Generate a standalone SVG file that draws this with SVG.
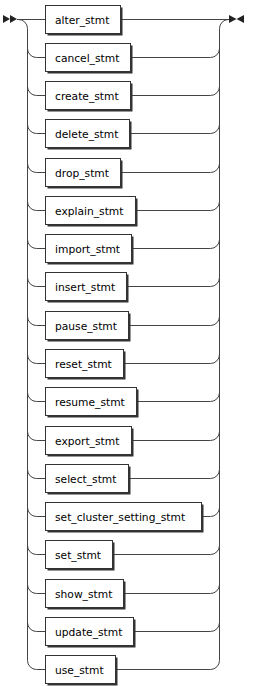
<svg xmlns="http://www.w3.org/2000/svg" width="263" height="686" viewBox="0 0 263 686">
<style>
.bg{fill:#fff}
.shadow{fill:#333;stroke:none}
.box{fill:#fff;stroke:#333;stroke-width:1}
.lbl{font-family:"DejaVu Sans",Verdana,sans-serif;font-size:10.7px;fill:#000}
.wire{fill:none;stroke:#444;stroke-width:1}
.arrow{fill:#222;stroke:none}
</style>
<rect class="bg" x="0" y="0" width="263" height="686"/>
<g id="connectors">
<polygon class="arrow" points="3,15 3,23 10,19"/>
<polygon class="arrow" points="10,15 10,23 17,19"/>
<polygon class="arrow" points="229,15 229,23 236.5,19"/>
<polygon class="arrow" points="244,15 244,23 236.5,19"/>
<path class="wire" d="M17 19.5 H45.5 M122 19.5 H229"/>
<path class="wire" d="M18 19.5 A9 9 0 0 1 27.5 28.5 V660.5"/>
<path class="wire" d="M219.5 660.5 V28.5 A9 9 0 0 1 228.5 19.5"/>
<path class="wire" d="M27.5 48.5 A9 9 0 0 0 36.5 57.5 H45.5 M132 57.5 H210.5 A9 9 0 0 0 219.5 48.5"/>
<path class="wire" d="M27.5 86.5 A9 9 0 0 0 36.5 95.5 H45.5 M132 95.5 H210.5 A9 9 0 0 0 219.5 86.5"/>
<path class="wire" d="M27.5 124.5 A9 9 0 0 0 36.5 133.5 H45.5 M131 133.5 H210.5 A9 9 0 0 0 219.5 124.5"/>
<path class="wire" d="M27.5 163.5 A9 9 0 0 0 36.5 172.5 H45.5 M122 172.5 H210.5 A9 9 0 0 0 219.5 163.5"/>
<path class="wire" d="M27.5 201.5 A9 9 0 0 0 36.5 210.5 H45.5 M137 210.5 H210.5 A9 9 0 0 0 219.5 201.5"/>
<path class="wire" d="M27.5 239.5 A9 9 0 0 0 36.5 248.5 H45.5 M133 248.5 H210.5 A9 9 0 0 0 219.5 239.5"/>
<path class="wire" d="M27.5 277.5 A9 9 0 0 0 36.5 286.5 H45.5 M128 286.5 H210.5 A9 9 0 0 0 219.5 277.5"/>
<path class="wire" d="M27.5 316.5 A9 9 0 0 0 36.5 325.5 H45.5 M130 325.5 H210.5 A9 9 0 0 0 219.5 316.5"/>
<path class="wire" d="M27.5 354.5 A9 9 0 0 0 36.5 363.5 H45.5 M125 363.5 H210.5 A9 9 0 0 0 219.5 354.5"/>
<path class="wire" d="M27.5 392.5 A9 9 0 0 0 36.5 401.5 H45.5 M138 401.5 H210.5 A9 9 0 0 0 219.5 392.5"/>
<path class="wire" d="M27.5 431.5 A9 9 0 0 0 36.5 440.5 H45.5 M133 440.5 H210.5 A9 9 0 0 0 219.5 431.5"/>
<path class="wire" d="M27.5 469.5 A9 9 0 0 0 36.5 478.5 H45.5 M130 478.5 H210.5 A9 9 0 0 0 219.5 469.5"/>
<path class="wire" d="M27.5 507.5 A9 9 0 0 0 36.5 516.5 H45.5 M203 516.5 H210.5 A9 9 0 0 0 219.5 507.5"/>
<path class="wire" d="M27.5 545.5 A9 9 0 0 0 36.5 554.5 H45.5 M114 554.5 H210.5 A9 9 0 0 0 219.5 545.5"/>
<path class="wire" d="M27.5 584.5 A9 9 0 0 0 36.5 593.5 H45.5 M125 593.5 H210.5 A9 9 0 0 0 219.5 584.5"/>
<path class="wire" d="M27.5 622.5 A9 9 0 0 0 36.5 631.5 H45.5 M135 631.5 H210.5 A9 9 0 0 0 219.5 622.5"/>
<path class="wire" d="M27.5 660.5 A9 9 0 0 0 36.5 669.5 H45.5 M117 669.5 H210.5 A9 9 0 0 0 219.5 660.5"/>
</g>
<g id="alter_stmt"><rect class="shadow" x="47.5" y="7.5" width="75" height="28"/><rect class="box" x="45.5" y="5.5" width="75" height="28"/><text class="lbl" x="55" y="23.5">alter_stmt</text></g>
<g id="cancel_stmt"><rect class="shadow" x="47.5" y="45.5" width="85" height="28"/><rect class="box" x="45.5" y="43.5" width="85" height="28"/><text class="lbl" x="55" y="61.5">cancel_stmt</text></g>
<g id="create_stmt"><rect class="shadow" x="47.5" y="83.5" width="85" height="28"/><rect class="box" x="45.5" y="81.5" width="85" height="28"/><text class="lbl" x="55" y="99.5">create_stmt</text></g>
<g id="delete_stmt"><rect class="shadow" x="47.5" y="121.5" width="84" height="28"/><rect class="box" x="45.5" y="119.5" width="84" height="28"/><text class="lbl" x="55" y="137.5">delete_stmt</text></g>
<g id="drop_stmt"><rect class="shadow" x="47.5" y="160.5" width="75" height="28"/><rect class="box" x="45.5" y="158.5" width="75" height="28"/><text class="lbl" x="55" y="176.5">drop_stmt</text></g>
<g id="explain_stmt"><rect class="shadow" x="47.5" y="198.5" width="90" height="28"/><rect class="box" x="45.5" y="196.5" width="90" height="28"/><text class="lbl" x="55" y="214.5">explain_stmt</text></g>
<g id="import_stmt"><rect class="shadow" x="47.5" y="236.5" width="86" height="28"/><rect class="box" x="45.5" y="234.5" width="86" height="28"/><text class="lbl" x="55" y="252.5">import_stmt</text></g>
<g id="insert_stmt"><rect class="shadow" x="47.5" y="274.5" width="81" height="28"/><rect class="box" x="45.5" y="272.5" width="81" height="28"/><text class="lbl" x="55" y="290.5">insert_stmt</text></g>
<g id="pause_stmt"><rect class="shadow" x="47.5" y="313.5" width="83" height="28"/><rect class="box" x="45.5" y="311.5" width="83" height="28"/><text class="lbl" x="55" y="329.5">pause_stmt</text></g>
<g id="reset_stmt"><rect class="shadow" x="47.5" y="351.5" width="78" height="28"/><rect class="box" x="45.5" y="349.5" width="78" height="28"/><text class="lbl" x="55" y="367.5">reset_stmt</text></g>
<g id="resume_stmt"><rect class="shadow" x="47.5" y="389.5" width="91" height="28"/><rect class="box" x="45.5" y="387.5" width="91" height="28"/><text class="lbl" x="55" y="405.5">resume_stmt</text></g>
<g id="export_stmt"><rect class="shadow" x="47.5" y="428.5" width="86" height="28"/><rect class="box" x="45.5" y="426.5" width="86" height="28"/><text class="lbl" x="55" y="444.5">export_stmt</text></g>
<g id="select_stmt"><rect class="shadow" x="47.5" y="466.5" width="83" height="28"/><rect class="box" x="45.5" y="464.5" width="83" height="28"/><text class="lbl" x="55" y="482.5">select_stmt</text></g>
<g id="set_cluster_setting_stmt"><rect class="shadow" x="47.5" y="504.5" width="156" height="28"/><rect class="box" x="45.5" y="502.5" width="156" height="28"/><text class="lbl" x="55" y="520.5">set_cluster_setting_stmt</text></g>
<g id="set_stmt"><rect class="shadow" x="47.5" y="542.5" width="67" height="28"/><rect class="box" x="45.5" y="540.5" width="67" height="28"/><text class="lbl" x="55" y="558.5">set_stmt</text></g>
<g id="show_stmt"><rect class="shadow" x="47.5" y="581.5" width="78" height="28"/><rect class="box" x="45.5" y="579.5" width="78" height="28"/><text class="lbl" x="55" y="597.5">show_stmt</text></g>
<g id="update_stmt"><rect class="shadow" x="47.5" y="619.5" width="88" height="28"/><rect class="box" x="45.5" y="617.5" width="88" height="28"/><text class="lbl" x="55" y="635.5">update_stmt</text></g>
<g id="use_stmt"><rect class="shadow" x="47.5" y="657.5" width="70" height="28"/><rect class="box" x="45.5" y="655.5" width="70" height="28"/><text class="lbl" x="55" y="673.5">use_stmt</text></g>
</svg>
